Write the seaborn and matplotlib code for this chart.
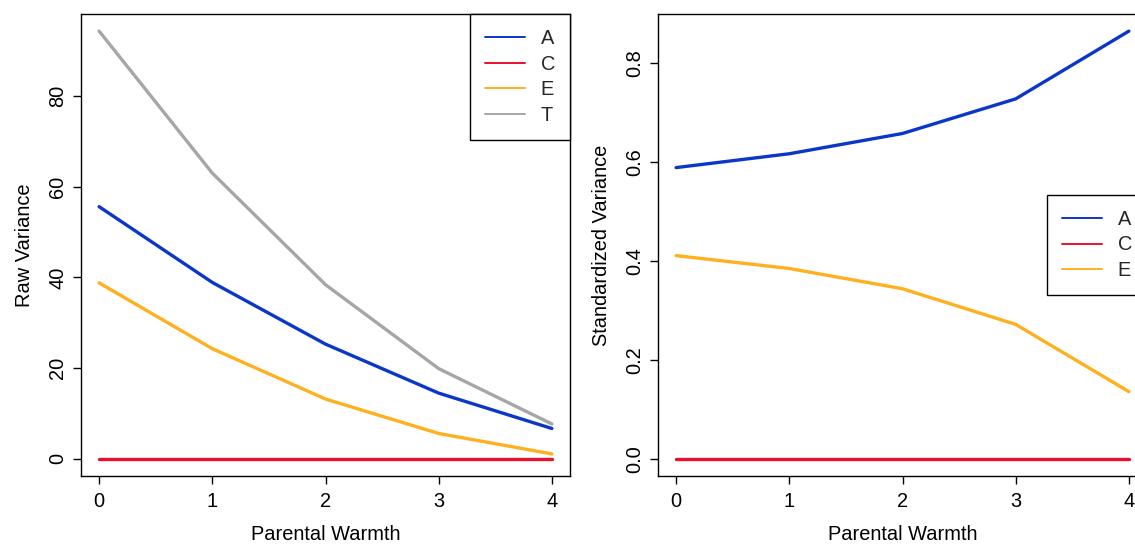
import numpy as np
import pandas as pd
import seaborn as sns
import matplotlib
matplotlib.use("Agg")
import matplotlib.pyplot as plt

# ---- data ----
warmth = [0, 1, 2, 3, 4]
raw_A = [55.6, 38.9, 25.3, 14.5, 6.7]
raw_C = [0, 0, 0, 0, 0]
raw_E = [38.8, 24.3, 13.2, 5.6, 1.1]
raw_T = [94.3, 63.0, 38.4, 19.9, 7.7]
std_A = [0.589, 0.617, 0.658, 0.728, 0.865]
std_C = [0, 0, 0, 0, 0]
std_E = [0.411, 0.385, 0.344, 0.272, 0.136]
raw_ticks = [0, 20, 40, 60, 80]
std_ticks = [0.0, 0.2, 0.4, 0.6, 0.8]
std_tick_labels = ["0.0", "0.2", "0.4", "0.6", "0.8"]

colors = {"A": "#0a37c8", "C": "#e8102e", "E": "#ffb01e", "T": "#a6a6a6"}

sns.set_theme(style="ticks")
plt.rcParams["font.family"] = ["Liberation Sans", "DejaVu Sans"]
FS = 14.4

raw_df = pd.DataFrame({"x": warmth * 4,
                       "v": raw_A + raw_C + raw_E + raw_T,
                       "comp": ["A"] * 5 + ["C"] * 5 + ["E"] * 5 + ["T"] * 5})
std_df = pd.DataFrame({"x": warmth * 3,
                       "v": std_A + std_C + std_E,
                       "comp": ["A"] * 5 + ["C"] * 5 + ["E"] * 5})

fig = plt.figure(figsize=(11.35, 5.44), dpi=100)
W, H = 1135, 544
ax1 = fig.add_axes([81 / W, 1 - 476 / H, 489 / W, 462 / H])
ax2 = fig.add_axes([658 / W, 1 - 476 / H, 489 / W, 462 / H])


def style_axes(ax, df, order, yticks, ylabels, ylabel, legend_loc, anchor):
    sns.lineplot(data=df, x="x", y="v", hue="comp", hue_order=order,
                 palette=colors, linewidth=2.4, ax=ax, legend=False)
    vmin, vmax = df["v"].min(), df["v"].max()
    pad = (vmax - vmin) * 0.04
    ax.set_ylim(vmin - pad, vmax + pad)
    ax.set_xlim(-0.16, 4.16)
    ax.set_xticks(warmth)
    ax.set_xticklabels([str(w) for w in warmth], fontsize=FS)
    ax.set_yticks(yticks)
    ax.set_yticklabels(ylabels, fontsize=FS, rotation=90, va="center")
    ax.tick_params(axis="both", direction="out", length=6, width=1,
                   color="black", labelcolor="black")
    ax.tick_params(axis="x", pad=5.5)
    ax.tick_params(axis="y", pad=4)
    for s in ax.spines.values():
        s.set_visible(True)
        s.set_color("black")
        s.set_linewidth(1)
    ax.set_xlabel("Parental Warmth", fontsize=FS, labelpad=10, color="black")
    ax.set_ylabel(ylabel, fontsize=FS, labelpad=10, color="black")
    handles = [plt.Line2D([], [], color=colors[c], linewidth=1.4) for c in order]
    leg = ax.legend(handles, order, loc=legend_loc, bbox_to_anchor=anchor,
                    borderaxespad=0, fontsize=FS, frameon=True, fancybox=False,
                    handlelength=2.0, handletextpad=0.8, labelspacing=0.33,
                    borderpad=0.75)
    leg.get_frame().set_edgecolor("black")
    leg.get_frame().set_linewidth(1)
    leg.get_frame().set_alpha(1)


style_axes(ax1, raw_df, ["A", "C", "E", "T"], raw_ticks,
           [str(t) for t in raw_ticks], "Raw Variance", "upper right", (1, 1))
style_axes(ax2, std_df, ["A", "C", "E"], std_ticks, std_tick_labels,
           "Standardized Variance", "center right", (1, 0.5))

fig.savefig("out.png", dpi=100)
